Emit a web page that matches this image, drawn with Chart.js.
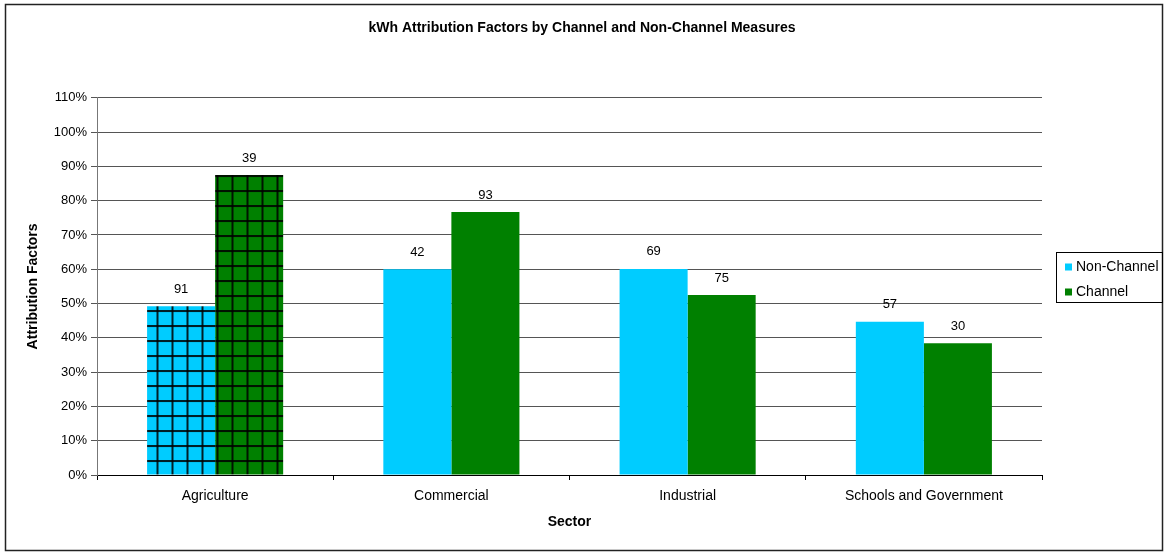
<!doctype html>
<html>
<head>
  <meta charset="utf-8" />
  <title>kWh Attribution Factors</title>
  <style>
    body { margin:0; background:#fff; }
    #wrap { width:1164px; height:552px; position:relative; }
  </style>
  <script src="https://cdn.jsdelivr.net/npm/chart.js"></script>
</head>
<body>
<div id="wrap"><canvas id="chart" width="1164" height="552"></canvas></div>
<script>
// data
const sectors = ['Agriculture', 'Commercial', 'Industrial', 'Schools and Government'];
const nonChannel = [49.2, 60.0, 60.1, 44.7];
const channel = [87.5, 76.7, 52.5, 38.4];
const nonChannelCounts = [91, 42, 69, 57];
const channelCounts = [39, 93, 75, 30];
const yTicks = [0, 10, 20, 30, 40, 50, 60, 70, 80, 90, 100, 110];

const CYAN = '#00ccff';
const GREEN = '#008000';
const FONT = "'Liberation Sans', Arial, sans-serif";

Chart.defaults.font.family = FONT;
Chart.defaults.color = '#000';

// checkered fill used for the Agriculture bars
function gridPattern(color) {
  const c = document.createElement('canvas');
  c.width = 15; c.height = 15;
  const g = c.getContext('2d');
  g.fillStyle = color;
  g.fillRect(0, 0, 15, 15);
  g.fillStyle = 'rgba(0,0,0,0.85)';
  g.fillRect(0, 0, 2, 15);
  g.fillRect(0, 0, 15, 2);
  const p = g.createPattern(c, 'repeat');
  if (p.setTransform) p.setTransform(new DOMMatrix().translate(6.5, 10));
  return p;
}

const cyanFill = sectors.map((s, i) => i === 0 ? gridPattern(CYAN) : CYAN);
const greenFill = sectors.map((s, i) => i === 0 ? gridPattern(GREEN) : GREEN);

// counts above the bars, the frame and the boxed legend
const extras = {
  id: 'extras',
  afterDatasetsDraw(chart) {
    const ctx = chart.ctx;
    const counts = [nonChannelCounts, channelCounts];
    ctx.save();
    ctx.font = '13px ' + FONT;
    ctx.fillStyle = '#000';
    ctx.textAlign = 'center';
    ctx.textBaseline = 'middle';
    counts.forEach((arr, di) => {
      chart.getDatasetMeta(di).data.forEach((bar, i) => {
        ctx.fillText(String(arr[i]), bar.x, bar.y - 17);
      });
    });
    ctx.restore();
  },
  afterDraw(chart) {
    const ctx = chart.ctx;
    ctx.save();
    ctx.strokeStyle = '#222';
    ctx.lineWidth = 1.5;
    ctx.strokeRect(5.5, 4.5, 1157, 546);
    // legend
    ctx.lineWidth = 1;
    ctx.strokeStyle = '#000';
    ctx.strokeRect(1056.5, 252.5, 106, 50);
    const items = [['Non-Channel', CYAN, 267], ['Channel', GREEN, 292]];
    ctx.font = '14px ' + FONT;
    ctx.textBaseline = 'middle';
    ctx.textAlign = 'left';
    items.forEach(([label, col, y]) => {
      ctx.fillStyle = col;
      ctx.fillRect(1065, y - 3.5, 7, 7);
      ctx.fillStyle = '#000';
      ctx.fillText(label, 1076, y);
    });
    ctx.restore();
  }
};

new Chart(document.getElementById('chart'), {
  type: 'bar',
  data: {
    labels: sectors,
    datasets: [
      { label: 'Non-Channel', data: nonChannel, backgroundColor: cyanFill, borderWidth: 0 },
      { label: 'Channel', data: channel, backgroundColor: greenFill, borderWidth: 0 }
    ]
  },
  options: {
    responsive: false,
    animation: false,
    layout: { padding: { left: 0, right: 0, top: 0, bottom: 0 } },
    datasets: { bar: { categoryPercentage: 0.576, barPercentage: 1.0 } },
    plugins: {
      legend: { display: false },
      tooltip: { enabled: false },
      title: {
        display: true,
        text: 'kWh Attribution Factors by Channel and Non-Channel Measures',
        font: { size: 14, weight: 'bold' },
        color: '#000',
        padding: { top: 20, bottom: 61 }
      }
    },
    scales: {
      x: {
        grid: { offset: true, drawOnChartArea: false, drawTicks: true, tickLength: 5, color: '#000' },
        border: { color: '#000', width: 1 },
        ticks: { font: { size: 14 }, color: '#000', padding: 8, maxRotation: 0 },
        title: { display: true, text: 'Sector', font: { size: 14, weight: 'bold' }, color: '#000', padding: { top: 0, bottom: 21 } },
        afterFit(scale) { scale.height = 77; }
      },
      y: {
        min: 0,
        max: 110,
        afterBuildTicks(scale) { scale.ticks = yTicks.map(v => ({ value: v })); },
        grid: { color: '#555', lineWidth: 1, drawTicks: true, tickLength: 6 },
        border: { color: '#777', width: 1 },
        ticks: { font: { size: 13 }, color: '#000', padding: 4, callback: v => v + '%' },
        title: { display: true, text: 'Attribution Factors', font: { size: 14, weight: 'bold' }, color: '#000', padding: { top: 25, bottom: 0 } },
        afterFit(scale) { scale.width = 97; }
      },
      // empty right-hand space for the legend box
      side: {
        position: 'right',
        display: true,
        grid: { display: false },
        border: { display: false },
        ticks: { display: false },
        afterFit(scale) { scale.width = 122; }
      }
    }
  },
  plugins: [extras]
});
</script>
</body>
</html>
